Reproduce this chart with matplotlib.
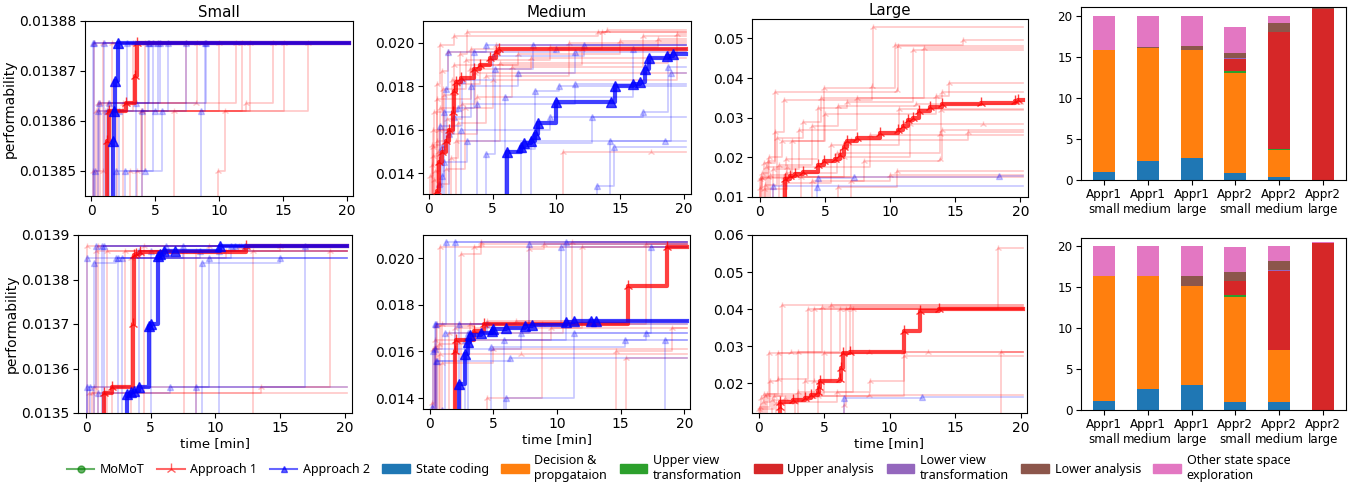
import matplotlib
matplotlib.use('Agg')
import matplotlib.pyplot as plt
from matplotlib.lines import Line2D
from matplotlib.patches import Patch

# ---------------- data: top row (small / medium / large) ----------------
ts_a1 = [
    [(0.2, 0.0138756)],
    [(0.5, 0.0138636), (3.4, 0.0138756)],
    [(0.9, 0.0138500), (1.1, 0.0138620), (17.0, 0.0138756)],
    [(1.3, 0.0138636), (7.4, 0.0138756)],
    [(2.5, 0.0138636), (11.3, 0.0138756)],
    [(3.0, 0.0138500), (3.9, 0.0138620), (15.1, 0.0138756)],
    [(4.0, 0.0138620), (12.1, 0.0138636), (14.2, 0.0138756)],
    [(6.5, 0.0138620), (11.8, 0.0138756)],
    [(9.9, 0.0138500), (10.5, 0.0138620), (12.4, 0.0138756)],
    [(3.6, 0.0138500), (4.2, 0.0138756)],
    [(0.4, 0.0138620), (10.0, 0.0138756)],
    [(1.6, 0.0138756)],
    [(0.7, 0.0138636), (8.2, 0.0138636), (8.3, 0.0138756)],
    [(0.1, 0.0138500), (0.9, 0.0138756)],
    [(2.0, 0.0138620), (3.3, 0.0138756)],
]
ts_a2 = [
    [(0.1, 0.0138756)],
    [(0.3, 0.0138500), (0.6, 0.0138636), (5.4, 0.0138756)],
    [(1.4, 0.0138636), (9.0, 0.0138756)],
    [(2.6, 0.0138500), (4.2, 0.0138500), (5.5, 0.0138620), (7.4, 0.0138756)],
    [(0.5, 0.0138620), (6.0, 0.0138756)],
    [(1.9, 0.0138500), (4.8, 0.0138756)],
    [(3.5, 0.0138636), (4.5, 0.0138756)],
    [(8.6, 0.0138620), (8.9, 0.0138756)],
    [(1.0, 0.0138756)],
    [(2.2, 0.0138620), (2.8, 0.0138756)],
    [(1.2, 0.0138620), (5.0, 0.0138620), (5.2, 0.0138756)],
    [(0.2, 0.0138756)],
    [(4.0, 0.0138620), (4.4, 0.0138756)],
]
ts_a1_bold = [(1.25, 0.013856), (1.4, 0.013862), (2.7, 0.0138636), (3.4, 0.013869), (3.55, 0.0138756)]
ts_a2_bold = [(1.7, 0.013856), (1.75, 0.013862), (1.85, 0.013868), (2.05, 0.0138756)]

tm_a1 = [
    [(0.1, 0.0139), (0.3, 0.0152), (0.6, 0.0181), (0.9, 0.0199), (2.0, 0.0203), (13.3, 0.0205)],
    [(0.2, 0.0144), (0.4, 0.0168), (1.0, 0.0187), (1.5, 0.0196), (5.3, 0.0199)],
    [(0.3, 0.0148), (0.8, 0.0160), (1.8, 0.0183), (3.2, 0.0188), (8.0, 0.0193)],
    [(0.4, 0.0137), (0.6, 0.0155), (1.2, 0.0176), (2.2, 0.0181), (4.0, 0.0190), (12.0, 0.0197)],
    [(0.5, 0.0141), (0.9, 0.0170), (2.4, 0.0195), (3.0, 0.0205), (14.0, 0.0206)],
    [(0.7, 0.0150), (1.4, 0.0165), (2.6, 0.0172), (3.6, 0.0186)],
    [(0.2, 0.0153), (1.1, 0.0179), (2.9, 0.0192), (9.5, 0.0198), (18.0, 0.0202)],
    [(1.7, 0.0147), (2.3, 0.0163), (4.5, 0.0185), (11.0, 0.0200)],
    [(0.9, 0.0135), (1.6, 0.0158), (3.8, 0.0175), (6.5, 0.0189), (16.8, 0.0203)],
    [(10.5, 0.0150), (17.4, 0.0150)],
    [(0.3, 0.0160), (2.0, 0.0190), (7.0, 0.0195), (15.0, 0.0201)],
    [(1.3, 0.0142), (2.8, 0.0170), (5.0, 0.0183), (19.5, 0.0204)],
    [(0.6, 0.0174), (3.3, 0.0197), (13.6, 0.0205)],
    [(2.1, 0.0155), (5.6, 0.0191), (18.8, 0.0196)],
]
tm_a2 = [
    [(0.8, 0.0135), (1.0, 0.0152), (1.3, 0.0179), (1.5, 0.0196), (4.5, 0.0199)],
    [(1.0, 0.0139), (1.2, 0.0168), (2.3, 0.0170), (3.5, 0.0196), (10.0, 0.0197)],
    [(1.6, 0.0158), (2.0, 0.0166), (3.3, 0.0180), (7.0, 0.0186), (11.5, 0.0196)],
    [(4.5, 0.0149), (5.2, 0.0188), (8.2, 0.0199)],
    [(7.2, 0.0151), (8.3, 0.0178), (10.2, 0.0180)],
    [(13.2, 0.0134), (14.5, 0.0152)],
    [(8.0, 0.0154), (12.8, 0.0166)],
    [(2.5, 0.0160), (9.5, 0.0166), (16.8, 0.0168), (18.8, 0.0189)],
    [(3.8, 0.0172), (11.5, 0.0181)],
    [(14.2, 0.0155), (19.0, 0.0186)],
    [(6.0, 0.0175), (16.0, 0.0197)],
    [(1.2, 0.0145), (3.0, 0.0155), (18.5, 0.0155)],
    [(0.9, 0.0162), (2.6, 0.0183), (5.0, 0.0194), (12.2, 0.0199)],
]
tm_a1_bold = [(0.6, 0.0132), (0.8, 0.0145), (1.0, 0.0150), (1.3, 0.0155), (1.6, 0.0160), (1.9, 0.0168),
              (2.0, 0.0178), (2.1, 0.0182), (2.5, 0.0184), (3.5, 0.0188), (4.0, 0.0190), (4.8, 0.0193),
              (5.3, 0.0196), (5.5, 0.01973)]
tm_a2_bold = [(6.1, 0.0150), (7.2, 0.0152), (7.5, 0.0154), (8.0, 0.0155), (8.3, 0.0158), (8.6, 0.0163),
              (10.0, 0.0173), (14.3, 0.0173), (14.6, 0.0180), (16.0, 0.0181), (16.6, 0.0182),
              (17.0, 0.0188), (17.3, 0.0193), (18.7, 0.0194), (19.2, 0.0195)]

tl_a1 = [
    [(0.0, 0.0145), (0.3, 0.0185), (1.2, 0.0265), (1.9, 0.0345), (8.6, 0.0380), (8.7, 0.0528)],
    [(0.1, 0.0150), (0.6, 0.0190), (1.2, 0.0365), (10.5, 0.0370), (10.6, 0.0480)],
    [(0.2, 0.0160), (0.7, 0.0200), (1.7, 0.0240), (4.9, 0.0375), (10.4, 0.0483), (15.6, 0.0495)],
    [(0.4, 0.0130), (1.3, 0.0250), (3.3, 0.0290), (4.7, 0.0350), (12.6, 0.0476)],
    [(0.5, 0.0175), (2.0, 0.0195), (4.5, 0.0325), (6.7, 0.0340), (11.8, 0.0470)],
    [(0.8, 0.0155), (2.5, 0.0240), (5.0, 0.0310), (13.5, 0.0355), (14.5, 0.0388)],
    [(1.0, 0.0170), (3.0, 0.0270), (7.5, 0.0350), (14.0, 0.0365)],
    [(1.5, 0.0180), (4.0, 0.0280), (6.0, 0.0330), (12.0, 0.0335)],
    [(2.0, 0.0160), (5.9, 0.0210), (13.8, 0.0260), (13.9, 0.0320)],
    [(3.2, 0.0150), (6.5, 0.0200), (11.5, 0.0285), (17.1, 0.0285)],
    [(4.0, 0.0140), (8.0, 0.0190), (13.8, 0.0196), (14.0, 0.0268)],
    [(6.0, 0.0125), (10.5, 0.0165)],
    [(7.0, 0.0140), (10.0, 0.0155)],
    [(0.3, 0.0120), (2.1, 0.0175), (8.5, 0.0257)],
    [(1.8, 0.0135), (5.5, 0.0230), (10.7, 0.0322)],
    [(0.6, 0.0150), (7.0, 0.0245), (16.0, 0.0263)],
    [(0.05, 0.0123), (0.2, 0.0148), (1.9, 0.0150)],
]
tl_a2 = [
    [(1.0, 0.0127)],
    [(4.4, 0.0125), (4.5, 0.0148), (7.2, 0.0150), (18.4, 0.0152)],
]
tl_a1_bold = [(1.95, 0.0145), (2.3, 0.0152), (2.7, 0.0158), (3.3, 0.0163), (4.5, 0.0180), (4.9, 0.0190),
              (5.8, 0.0195), (6.2, 0.0205), (6.5, 0.0225), (6.7, 0.0240), (7.5, 0.0248), (9.2, 0.0262),
              (10.6, 0.0268), (11.0, 0.0278), (11.4, 0.0295), (11.8, 0.0300), (12.2, 0.0318),
              (13.1, 0.0328), (14.0, 0.0335), (17.0, 0.0338), (19.6, 0.0342), (19.8, 0.0345)]

# ---------------- data: bottom row ----------------
bs_a1 = [
    [(0.1, 0.013875)],
    [(0.2, 0.013546), (0.8, 0.013863), (12.0, 0.013875)],
    [(1.5, 0.013546)],
    [(0.5, 0.013546), (13.5, 0.013558)],
    [(2.0, 0.013558), (18.9, 0.013863)],
    [(0.9, 0.013875)],
    [(1.6, 0.013863), (9.5, 0.013875)],
    [(4.5, 0.013875)],
    [(7.6, 0.013863), (11.8, 0.013875)],
    [(8.5, 0.013863)],
    [(3.5, 0.013849), (10.8, 0.013863)],
    [(12.9, 0.013863)],
    [(0.6, 0.013558), (3.0, 0.013863), (15.0, 0.013875)],
]
bs_a2 = [
    [(0.05, 0.013849)],
    [(0.1, 0.013558), (0.8, 0.013875)],
    [(0.6, 0.013836), (2.3, 0.013849)],
    [(9.0, 0.013836), (15.0, 0.013849)],
    [(0.3, 0.013558), (16.9, 0.013875)],
    [(1.2, 0.013875)],
    [(2.5, 0.013849), (7.5, 0.013875)],
    [(4.1, 0.013863), (6.2, 0.013875)],
    [(8.5, 0.013558), (9.5, 0.013849), (11.2, 0.013875)],
    [(5.0, 0.013863), (12.3, 0.013875)],
    [(10.3, 0.013863), (11.5, 0.013875)],
    [(0.9, 0.013546), (6.5, 0.013558)],
    [(1.4, 0.013875)],
    [(2.8, 0.013849), (8.8, 0.013863)],
]
bs_a1_bold = [(1.4, 0.013546), (2.0, 0.013558), (3.6, 0.013700), (3.7, 0.013855), (3.9, 0.013857),
              (4.2, 0.013862), (12.4, 0.013875)]
bs_a2_bold = [(3.2, 0.013543), (3.5, 0.013547), (3.7, 0.013550), (4.1, 0.013558), (4.9, 0.013695),
              (5.0, 0.013700), (5.6, 0.013852), (5.75, 0.013857), (6.0, 0.013863), (6.9, 0.013863),
              (10.4, 0.013875)]

bm_a1 = [
    [(0.2, 0.0138), (0.4, 0.0162), (0.8, 0.0205)],
    [(0.5, 0.0171), (3.5, 0.0205), (4.0, 0.0206)],
    [(0.3, 0.0161), (1.0, 0.0172), (7.8, 0.0204), (9.0, 0.0206)],
    [(2.5, 0.0202), (4.0, 0.0207)],
    [(0.6, 0.0172), (4.5, 0.0173)],
    [(1.5, 0.0168), (10.5, 0.0172)],
    [(14.6, 0.0160), (19.0, 0.0170)],
    [(15.4, 0.0157)],
    [(0.8, 0.0159), (7.2, 0.0159)],
    [(1.0, 0.0155), (5.0, 0.0161)],
    [(2.0, 0.0170), (12.0, 0.0205)],
    [(0.4, 0.0165), (9.5, 0.0170)],
    [(4.5, 0.0140), (8.8, 0.0172), (17.0, 0.0206)],
    [(0.7, 0.0163), (3.2, 0.0172), (6.8, 0.0173), (11.2, 0.0207)],
]
bm_a2 = [
    [(0.3, 0.0160), (0.5, 0.0172), (1.3, 0.0207)],
    [(0.6, 0.0156), (2.0, 0.0207)],
    [(1.2, 0.0168), (7.8, 0.0206)],
    [(1.0, 0.0135), (2.3, 0.0172), (10.3, 0.0205)],
    [(2.8, 0.0165), (10.7, 0.0207)],
    [(3.0, 0.0168), (4.5, 0.0172)],
    [(0.5, 0.0156), (6.3, 0.0157)],
    [(4.8, 0.0162), (15.3, 0.0165)],
    [(6.0, 0.0140), (11.3, 0.0168), (17.4, 0.0205)],
    [(0.4, 0.0161), (7.2, 0.0168)],
    [(18.5, 0.0165)],
    [(5.8, 0.0165), (17.0, 0.0168)],
    [(0.2, 0.0136), (0.4, 0.0172), (12.5, 0.0173)],
]
bm_a1_bold = [(2.0, 0.0160), (2.1, 0.0165), (3.5, 0.0169), (4.3, 0.0172), (15.6, 0.0188), (18.6, 0.0205)]
bm_a2_bold = [(2.3, 0.0146), (2.8, 0.0159), (3.0, 0.0164), (3.2, 0.0167), (4.0, 0.0168), (4.9, 0.0169),
              (5.0, 0.01695), (6.0, 0.0170), (7.5, 0.0171), (8.0, 0.01715), (10.7, 0.01725),
              (11.3, 0.0173), (12.7, 0.0173), (13.1, 0.0173)]

bl_a1 = [
    [(0.2, 0.0160), (0.4, 0.0170), (1.5, 0.0280), (8.4, 0.0285)],
    [(0.1, 0.0135), (0.9, 0.0205), (1.5, 0.0210), (3.8, 0.0400)],
    [(0.3, 0.0150), (0.8, 0.0280), (2.5, 0.0285), (6.2, 0.0400)],
    [(0.5, 0.0165), (1.8, 0.0410)],
    [(1.0, 0.0155), (3.5, 0.0205), (4.2, 0.0400)],
    [(1.3, 0.0145), (3.0, 0.0285), (4.8, 0.0405)],
    [(2.0, 0.0160), (4.2, 0.0205), (5.5, 0.0410)],
    [(0.6, 0.0170), (5.0, 0.0280), (7.0, 0.0405)],
    [(2.8, 0.0150), (6.0, 0.0175), (8.5, 0.0205), (11.1, 0.0285), (12.9, 0.0285)],
    [(4.5, 0.0165), (11.1, 0.0273)],
    [(6.5, 0.0140), (6.7, 0.0400)],
    [(3.0, 0.0175), (7.2, 0.0400), (18.3, 0.0565)],
    [(18.5, 0.0285)],
    [(0.0, 0.0130), (1.2, 0.0165), (8.4, 0.0167)],
]
bl_a2 = [
    [(6.5, 0.0160), (12.5, 0.0161)],
]
bl_a1_bold = [(1.6, 0.0135), (1.65, 0.0148), (2.6, 0.0155), (3.5, 0.0160), (4.0, 0.0168), (4.5, 0.0175),
              (4.6, 0.0190), (4.7, 0.0205), (6.2, 0.0210), (6.3, 0.0240), (6.4, 0.0280), (7.0, 0.0285),
              (11.1, 0.0340), (12.3, 0.0395), (13.8, 0.0400)]

# ---------------- data: bar charts ----------------
bar_labels = ["Appr1\nsmall", "Appr1\nmedium", "Appr1\nlarge", "Appr2\nsmall", "Appr2\nmedium", "Appr2\nlarge"]
phase_names = ["State coding", "Decision &\npropgataion", "Upper view\ntransformation", "Upper analysis",
               "Lower view\ntransformation", "Lower analysis", "Other state space\nexploration"]
phase_colors = ["#1f77b4", "#ff7f0e", "#2ca02c", "#d62728", "#9467bd", "#8c564b", "#e377c2"]

top_state_coding = [1.0, 2.3, 2.7, 0.85, 0.35, 0.0]
top_decision = [14.9, 13.85, 13.2, 12.15, 3.35, 0.0]
top_upper_view = [0.0, 0.0, 0.0, 0.25, 0.02, 0.0]
top_upper_analysis = [0.0, 0.0, 0.0, 1.55, 14.28, 20.85]
top_lower_view = [0.0, 0.0, 0.0, 0.05, 0.0, 0.0]
top_lower_analysis = [0.0, 0.1, 0.5, 0.6, 1.2, 0.1]
top_other = [4.1, 3.75, 3.6, 3.15, 0.8, 0.0]

bot_state_coding = [1.1, 2.6, 3.0, 1.0, 1.0, 0.0]
bot_decision = [15.2, 13.7, 12.2, 12.85, 6.35, 0.0]
bot_upper_view = [0.0, 0.0, 0.0, 0.25, 0.0, 0.0]
bot_upper_analysis = [0.0, 0.0, 0.0, 1.6, 9.6, 20.4]
bot_lower_view = [0.0, 0.0, 0.0, 0.1, 0.1, 0.0]
bot_lower_analysis = [0.1, 0.1, 1.2, 1.1, 1.2, 0.0]
bot_other = [3.65, 3.65, 3.65, 3.05, 1.8, 0.1]

# ---------------- drawing ----------------
W, H = 1357, 492
fig = plt.figure(figsize=(W / 100, H / 100), dpi=100)

def px_axes(l, t, r, b):
    return fig.add_axes([l / W, 1 - b / H, (r - l) / W, (b - t) / H])

TEND = 20.2
RED, BLUE = "red", "blue"
TICK_FS = 10
BAR_FS = 8.6

def draw_runs(ax, runs, color, marker, ms, lw, alpha, ylow, z=2):
    for run in runs:
        ts = [run[0][0]] + [p[0] for p in run] + [TEND]
        vs = [ylow] + [p[1] for p in run] + [run[-1][1]]
        ax.step(ts, vs, where='post', color=color, lw=lw, alpha=alpha, marker=marker,
                ms=ms, markevery=slice(1, len(ts) - 1), zorder=z)

def line_panel(ax, a1, a2, a1b, a2b, ylim, xlim, yticks, ytickfmt):
    ylow = ylim[0] - (ylim[1] - ylim[0])
    draw_runs(ax, a1, RED, '2', 5, 1.2, 0.22, ylow)
    draw_runs(ax, a2, BLUE, '^', 4, 1.2, 0.22, ylow)
    if a1b:
        draw_runs(ax, [a1b], RED, '2', 8, 3, 0.75, ylow, z=4)
    if a2b:
        draw_runs(ax, [a2b], BLUE, '^', 7, 3, 0.75, ylow, z=5)
    ax.set_xlim(*xlim)
    ax.set_ylim(*ylim)
    ax.set_xticks([0, 5, 10, 15, 20])
    ax.set_yticks(yticks)
    ax.set_yticklabels([ytickfmt.format(v) for v in yticks])
    ax.tick_params(labelsize=TICK_FS, length=3.5, pad=2.5)

def bar_panel(ax, stacks):
    x = list(range(len(bar_labels)))
    bottom = [0.0] * len(x)
    for vals, col in zip(stacks, phase_colors):
        ax.bar(x, vals, 0.5, bottom=bottom, color=col)
        bottom = [b + v for b, v in zip(bottom, vals)]
    ax.set_xticks(x)
    ax.set_xticklabels(bar_labels, linespacing=1.15)
    ax.set_yticks([0, 5, 10, 15, 20])
    ax.tick_params(labelsize=BAR_FS, length=3.5, pad=2.5)

# top row
ax = px_axes(85, 21, 353, 196)
line_panel(ax, ts_a1, ts_a2, ts_a1_bold, ts_a2_bold, (0.013845, 0.01388), (-0.5, 20.5),
           [0.01385, 0.01386, 0.01387, 0.01388], "{:.5f}")
ax.set_title("Small", fontsize=10.8, pad=3)
ax.set_ylabel("performability", fontsize=TICK_FS, labelpad=2)

ax = px_axes(423, 21, 691, 194)
line_panel(ax, tm_a1, tm_a2, tm_a1_bold, tm_a2_bold, (0.01305, 0.02101), (-0.47, 20.58),
           [0.014, 0.016, 0.018, 0.020], "{:.3f}")
ax.set_title("Medium", fontsize=10.8, pad=3)

ax = px_axes(752, 19, 1028, 197)
line_panel(ax, tl_a1, tl_a2, tl_a1_bold, None, (0.01, 0.0549), (-0.59, 20.59),
           [0.01, 0.02, 0.03, 0.04, 0.05], "{:.2f}")
ax.set_title("Large", fontsize=10.8, pad=3)

ax = px_axes(1081, 7, 1346, 180)
bar_panel(ax, [top_state_coding, top_decision, top_upper_view, top_upper_analysis,
               top_lower_view, top_lower_analysis, top_other])
ax.set_ylim(0, 21.1)

# bottom row
ax = px_axes(78, 235, 352, 413)
line_panel(ax, bs_a1, bs_a2, bs_a1_bold, bs_a2_bold, (0.0135, 0.0139), (-0.62, 20.57),
           [0.0135, 0.0136, 0.0137, 0.0138, 0.0139], "{:.4f}")
ax.set_ylabel("performability", fontsize=TICK_FS, labelpad=2)
ax.set_xlabel("time [min]", fontsize=9.5, labelpad=1)

ax = px_axes(423, 235, 690, 409)
line_panel(ax, bm_a1, bm_a2, bm_a1_bold, bm_a2_bold, (0.01353, 0.0210), (-0.52, 20.44),
           [0.014, 0.016, 0.018, 0.020], "{:.3f}")
ax.set_xlabel("time [min]", fontsize=9.5, labelpad=1)

ax = px_axes(752, 235, 1027, 413)
line_panel(ax, bl_a1, bl_a2, bl_a1_bold, None, (0.0119, 0.06), (-0.51, 20.48),
           [0.02, 0.03, 0.04, 0.05, 0.06], "{:.2f}")
ax.set_xlabel("time [min]", fontsize=9.5, labelpad=1)

ax = px_axes(1081, 238, 1346, 410)
bar_panel(ax, [bot_state_coding, bot_decision, bot_upper_view, bot_upper_analysis,
               bot_lower_view, bot_lower_analysis, bot_other])
ax.set_ylim(0, 21.0)

# legend
handles = [
    Line2D([], [], color="green", alpha=0.6, lw=1.5, marker='o', ms=5, markerfacecolor="green",
           markeredgecolor="green"),
    Line2D([], [], color=RED, alpha=0.6, lw=1.5, marker='2', ms=8, markeredgecolor=RED),
    Line2D([], [], color=BLUE, alpha=0.6, lw=1.5, marker='^', ms=5, markerfacecolor=BLUE,
           markeredgecolor=BLUE),
] + [Patch(color=c) for c in phase_colors]
labels = ["MoMoT", "Approach 1", "Approach 2"] + phase_names
fig.legend(handles, labels, loc='center', bbox_to_anchor=(0.5, 1 - 468 / H), ncol=10,
           frameon=False, prop={'family': 'Noto Sans', 'size': 9}, handlelength=2.2,
           columnspacing=1.0, handletextpad=0.45)

fig.savefig("out.png", dpi=100)
